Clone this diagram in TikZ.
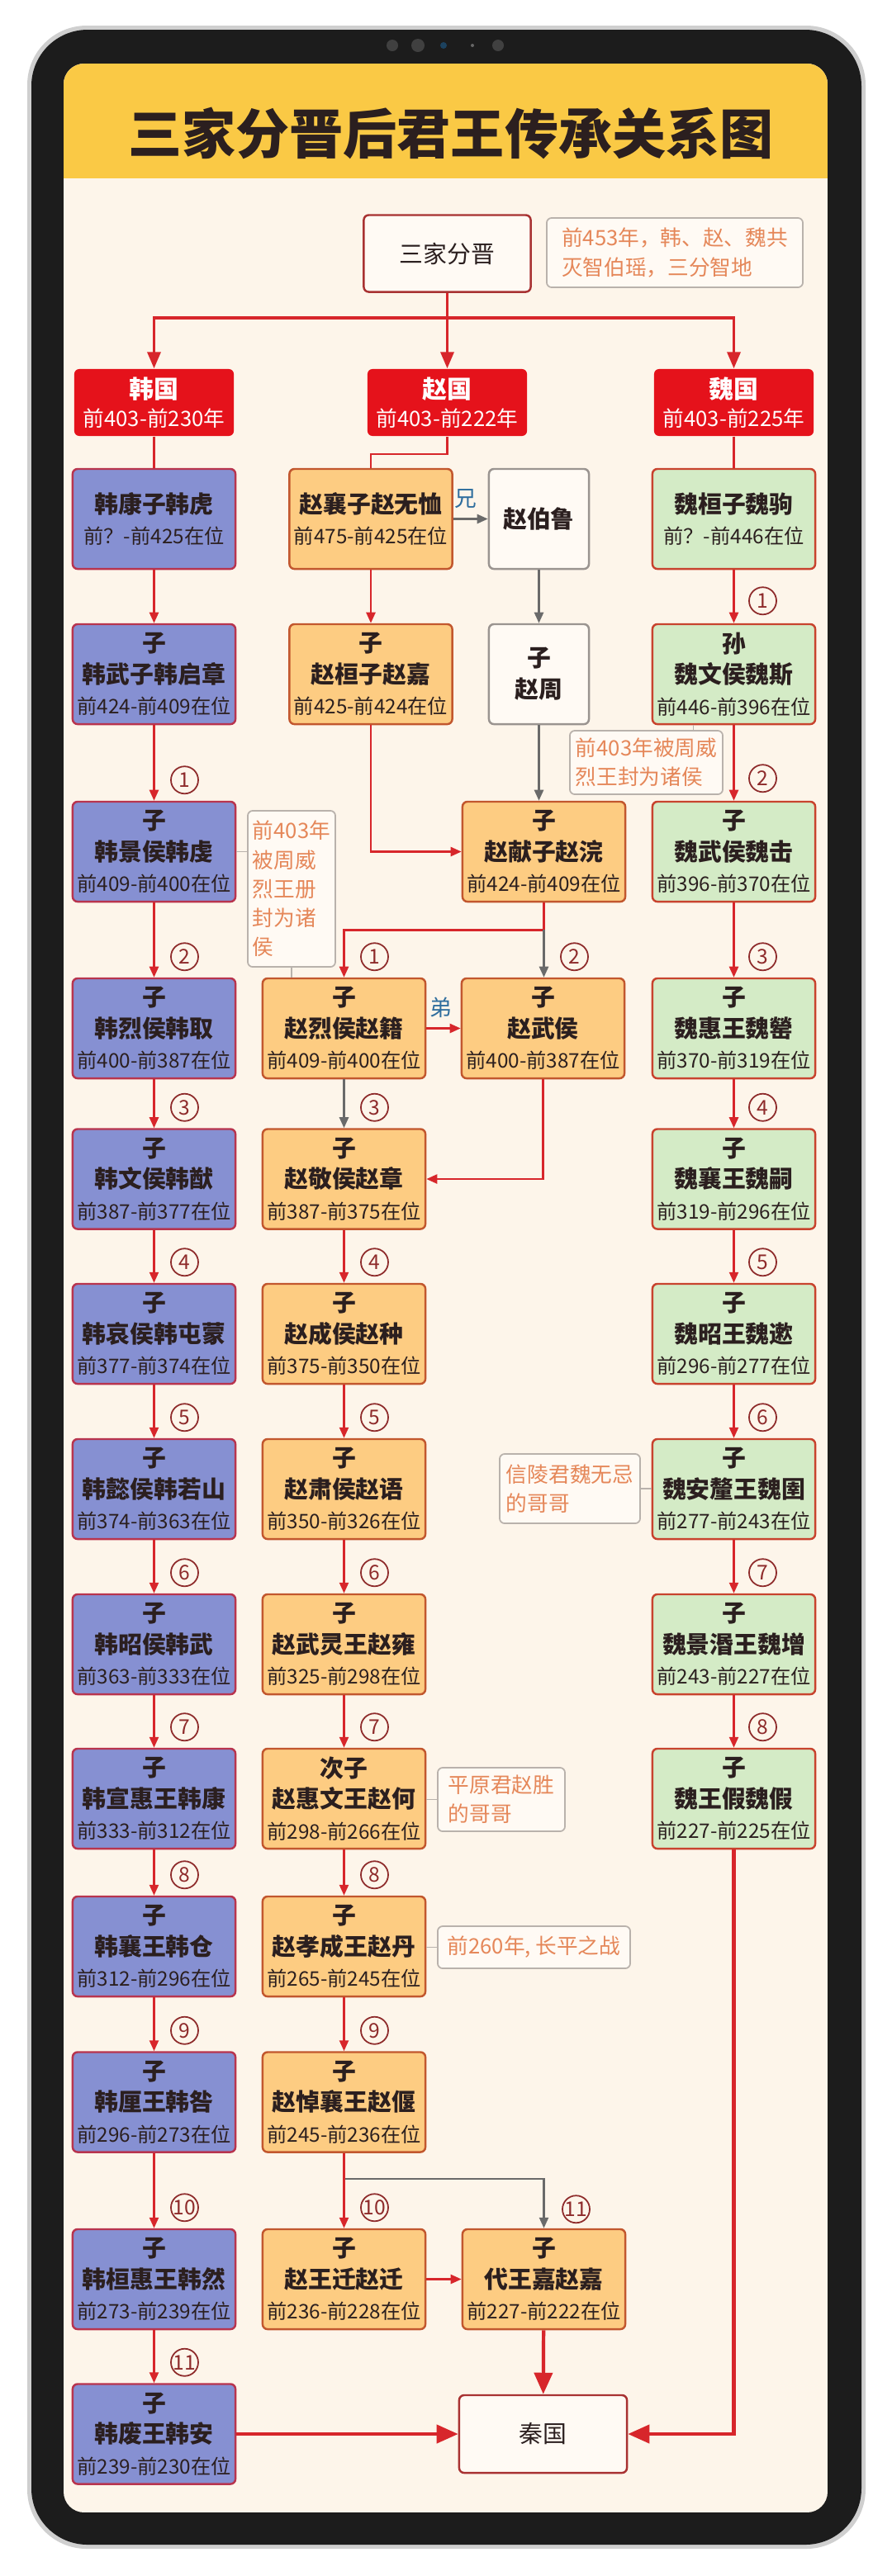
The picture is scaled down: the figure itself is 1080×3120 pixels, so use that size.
\documentclass[tikz,border=0pt]{standalone}
\usepackage{fontspec}
\setmainfont{Noto Sans CJK SC}
\usetikzlibrary{positioning,arrows.meta,calc}

\definecolor{hanfill}{HTML}{8690D2}
\definecolor{hanline}{HTML}{B8344E}
\definecolor{zhaofill}{HTML}{FDCC82}
\definecolor{zhaoline}{HTML}{C2572E}
\definecolor{weifill}{HTML}{D4EBC6}
\definecolor{weiline}{HTML}{C8432E}
\definecolor{statered}{HTML}{E5121B}
\definecolor{linered}{HTML}{D7262B}
\definecolor{linegray}{HTML}{6A6A6A}
\definecolor{sidegray}{HTML}{9A9490}
\definecolor{endline}{HTML}{A83232}
\definecolor{paper}{HTML}{FDF5EA}
\definecolor{paperwhite}{HTML}{FFFAF4}
\definecolor{band}{HTML}{FAC945}
\definecolor{frame}{HTML}{1C1C1C}
\definecolor{rim}{HTML}{CFCFCF}
\definecolor{ink}{HTML}{2B1F1F}
\definecolor{noteink}{HTML}{E58759}
\definecolor{notegray}{HTML}{B9B2AC}
\definecolor{numred}{HTML}{8E2B2B}
\definecolor{kinblue}{HTML}{2F6E9E}

\newcommand{\datefont}{\fontsize{6.9}{10.7}\selectfont\mdseries}
\newcommand{\statedate}{\fontsize{7.3}{9.7}\selectfont\mdseries}
\newcommand{\ruler}[3]{#1\\#2\\{\datefont #3}}

\tikzset{
  kbox/.style={rounded corners=0.06cm, minimum width=1.97cm, minimum height=1.21cm,
    align=center, inner sep=1pt, line width=0.7pt, text=ink,
    font=\fontsize{8.2}{10.7}\selectfont\bfseries},
  hanbox/.style={kbox, draw=hanline, fill=hanfill},
  zhaobox/.style={kbox, draw=zhaoline, fill=zhaofill},
  weibox/.style={kbox, draw=weiline, fill=weifill},
  sidebox/.style={kbox, draw=sidegray, fill=paperwhite, minimum width=1.21cm},
  endbox/.style={kbox, draw=endline, fill=paperwhite, minimum width=2.03cm, minimum height=0.94cm,
    font=\fontsize{8.2}{10.7}\selectfont},
  statebox/.style={rounded corners=0.06cm, fill=statered, text=white, align=center,
    minimum width=1.93cm, minimum height=0.81cm, inner sep=1pt,
    font=\fontsize{8.5}{9.7}\selectfont\bfseries},
  notebox/.style={draw=notegray, fill=paperwhite, rounded corners=0.06cm, text=noteink,
    align=left, inner sep=2pt, line width=0.5pt, font=\fontsize{7.3}{10}\selectfont},
  num/.style={circle, draw=numred, text=numred, line width=0.5pt, inner sep=0pt,
    minimum size=0.33cm, font=\fontsize{7}{7}\selectfont},
  kin/.style={text=kinblue, font=\fontsize{7.6}{8}\selectfont},
  redline/.style={draw=linered, line width=0.7pt},
  redarr/.style={redline, -{Triangle[length=0.13cm,width=0.11cm]}},
  grayarr/.style={draw=linegray, line width=0.7pt, -{Triangle[length=0.13cm,width=0.11cm]}},
  toparr/.style={draw=linered, line width=1pt, -{Triangle[length=0.2cm,width=0.16cm]}},
  bigarr/.style={draw=linered, line width=1.2pt, -{Triangle[length=0.26cm,width=0.22cm]}},
  noteline/.style={draw=notegray, line width=0.5pt}
}

\begin{document}
\begin{tikzpicture}[x=0.01cm,y=-0.01cm]
\useasboundingbox (0,0) rectangle (1080,3120);
\fill[white] (0,0) rectangle (1080,3120);
% tablet frame
\fill[rim, rounded corners=0.72cm] (33,31) rectangle (1048,3087);
\fill[frame, rounded corners=0.68cm] (38,36) rectangle (1043,3082);
\fill[black!75] (475,55) circle (0.07cm) (506,55) circle (0.08cm) (603,55) circle (0.07cm);
\fill[kinblue!60!black] (537,55) circle (0.04cm);
\fill[black!60] (572,55) circle (0.02cm);
\begin{scope}
\clip[rounded corners=0.25cm] (77,77) rectangle (1002,3043);
\fill[paper] (77,77) rectangle (1002,3043);
\fill[band] (77,77) rectangle (1002,216);
\end{scope}
\node[text=ink, font=\fontsize{18.5}{20}\selectfont\bfseries] (title) at (546,161) {三家分晋后君王传承关系图};

% top
\node[endbox, minimum width=2.02cm, minimum height=0.93cm] (sj) at (541.5,307) {三家分晋};
\node[notebox, minimum width=3.1cm, minimum height=0.84cm] (n453) at (817,306) {前453年，韩、赵、魏共\\灭智伯瑶，三分智地};
\node[statebox] (hanguo) at (186.5,487.5) {韩国\\{\statedate 前403-前230年}};
\node[statebox] (zhaoguo) at (541.5,487.5) {赵国\\{\statedate 前403-前222年}};
\node[statebox] (weiguo) at (888.5,487.5) {魏国\\{\statedate 前403-前225年}};
\coordinate (split) at (541.5,385);

% han
\node[hanbox] (h1) at (186.5,628.5) {韩康子韩虎\\{\datefont 前？-前425在位}};
\node[hanbox] (h2) at (186.5,816.5) {\ruler{子}{韩武子韩启章}{前424-前409在位}};
\node[hanbox] (h3) at (186.5,1031.5) {\ruler{子}{韩景侯韩虔}{前409-前400在位}};
\node[hanbox] (h4) at (186.5,1245.5) {\ruler{子}{韩烈侯韩取}{前400-前387在位}};
\node[hanbox] (h5) at (186.5,1428) {\ruler{子}{韩文侯韩猷}{前387-前377在位}};
\node[hanbox] (h6) at (186.5,1615.5) {\ruler{子}{韩哀侯韩屯蒙}{前377-前374在位}};
\node[hanbox] (h7) at (186.5,1803.5) {\ruler{子}{韩懿侯韩若山}{前374-前363在位}};
\node[hanbox] (h8) at (186.5,1991.5) {\ruler{子}{韩昭侯韩武}{前363-前333在位}};
\node[hanbox] (h9) at (186.5,2178.5) {\ruler{子}{韩宣惠王韩康}{前333-前312在位}};
\node[hanbox] (h10) at (186.5,2357.5) {\ruler{子}{韩襄王韩仓}{前312-前296在位}};
\node[hanbox] (h11) at (186.5,2546) {\ruler{子}{韩厘王韩咎}{前296-前273在位}};
\node[hanbox] (h12) at (186.5,2760.5) {\ruler{子}{韩桓惠王韩然}{前273-前239在位}};
\node[hanbox] (h13) at (186.5,2948) {\ruler{子}{韩废王韩安}{前239-前230在位}};

% zhao
\node[zhaobox] (zx) at (449,628.5) {赵襄子赵无恤\\{\datefont 前475-前425在位}};
\node[sidebox] (bl) at (652.5,628.5) {赵伯鲁};
\node[zhaobox] (zh) at (449,816.5) {\ruler{子}{赵桓子赵嘉}{前425-前424在位}};
\node[sidebox] (zz) at (652.5,816.5) {子\\赵周};
\node[zhaobox] (xz) at (658.5,1031.5) {\ruler{子}{赵献子赵浣}{前424-前409在位}};
\node[zhaobox] (lie) at (416.5,1245.5) {\ruler{子}{赵烈侯赵籍}{前409-前400在位}};
\node[zhaobox] (wh) at (657.5,1245.5) {\ruler{子}{赵武侯}{前400-前387在位}};
\node[zhaobox] (z5) at (416.5,1428) {\ruler{子}{赵敬侯赵章}{前387-前375在位}};
\node[zhaobox] (z6) at (416.5,1615.5) {\ruler{子}{赵成侯赵种}{前375-前350在位}};
\node[zhaobox] (z7) at (416.5,1803.5) {\ruler{子}{赵肃侯赵语}{前350-前326在位}};
\node[zhaobox] (z8) at (416.5,1991.5) {\ruler{子}{赵武灵王赵雍}{前325-前298在位}};
\node[zhaobox] (z9) at (416.5,2178.5) {\ruler{次子}{赵惠文王赵何}{前298-前266在位}};
\node[zhaobox] (z10) at (416.5,2357.5) {\ruler{子}{赵孝成王赵丹}{前265-前245在位}};
\node[zhaobox] (z11) at (416.5,2546) {\ruler{子}{赵悼襄王赵偃}{前245-前236在位}};
\node[zhaobox] (z12) at (416.5,2760.5) {\ruler{子}{赵王迁赵迁}{前236-前228在位}};
\node[zhaobox] (dw) at (658.5,2760.5) {\ruler{子}{代王嘉赵嘉}{前227-前222在位}};
\node[endbox] (qin) at (657.5,2948) {秦国};

% wei
\node[weibox] (w1) at (888.5,628.5) {魏桓子魏驹\\{\datefont 前？-前446在位}};
\node[weibox] (w2) at (888.5,816.5) {\ruler{孙}{魏文侯魏斯}{前446-前396在位}};
\node[weibox] (w3) at (888.5,1031.5) {\ruler{子}{魏武侯魏击}{前396-前370在位}};
\node[weibox] (w4) at (888.5,1245.5) {\ruler{子}{魏惠王魏罃}{前370-前319在位}};
\node[weibox] (w5) at (888.5,1428) {\ruler{子}{魏襄王魏嗣}{前319-前296在位}};
\node[weibox] (w6) at (888.5,1615.5) {\ruler{子}{魏昭王魏遬}{前296-前277在位}};
\node[weibox] (w7) at (888.5,1803.5) {\ruler{子}{魏安釐王魏圉}{前277-前243在位}};
\node[weibox] (w8) at (888.5,1991.5) {\ruler{子}{魏景湣王魏增}{前243-前227在位}};
\node[weibox] (w9) at (888.5,2178.5) {\ruler{子}{魏王假魏假}{前227-前225在位}};

% notes
\node[notebox, minimum width=1.85cm, minimum height=0.77cm] (nwei) at (782.5,923.5) {前403年被周威\\烈王封为诸侯};
\node[notebox, minimum width=1.06cm, minimum height=1.89cm, inner sep=1pt] (nhz) at (353,1076.5) {前403年\\被周威\\烈王册\\封为诸\\侯};
\node[notebox, minimum width=1.70cm, minimum height=0.84cm] (nxl) at (690,1803) {信陵君魏无忌\\的哥哥};
\node[notebox, minimum width=1.54cm, minimum height=0.77cm] (npy) at (607,2179.5) {平原君赵胜\\的哥哥};
\node[notebox, minimum width=2.33cm, minimum height=0.51cm] (ncp) at (646.5,2358.5) {前260年, 长平之战};
\coordinate (nw) at ($(nwei.north)+(57,0)$);
\draw[noteline] (nw) -- (nw |- w2.south);
\draw[noteline] (nhz.west |- h3.east) -- (h3.east);
\draw[noteline] (nhz.south) -- (nhz.south |- lie.north);
\draw[noteline] (nxl.east) -- (nxl.east -| w7.west);
\draw[noteline] (npy.west) -- (npy.west -| z9.east);
\draw[noteline] (ncp.west) -- (ncp.west -| z10.east);

% split into three
\draw[toparr] (sj.south) -- (zhaoguo.north);
\draw[toparr] (split) -| (hanguo.north);
\draw[toparr] (split) -| (weiguo.north);
\draw[redline] (hanguo) -- (h1);
\draw[redline] (zhaoguo.south) -- ++(0,21) -| (zx.north);
\draw[redline] (weiguo) -- (w1);

% han line
\draw[redarr] (h1) -- (h2);
\draw[redarr] (h2) -- (h3); \node[num] (nh1) at ($(h3.north)+(37,-25)$) {1};
\draw[redarr] (h3) -- (h4); \node[num] (nh2) at ($(h4.north)+(37,-25)$) {2};
\draw[redarr] (h4) -- (h5); \node[num] (nh3) at ($(h5.north)+(37,-25)$) {3};
\draw[redarr] (h5) -- (h6); \node[num] (nh4) at ($(h6.north)+(37,-25)$) {4};
\draw[redarr] (h6) -- (h7); \node[num] (nh5) at ($(h7.north)+(37,-25)$) {5};
\draw[redarr] (h7) -- (h8); \node[num] (nh6) at ($(h8.north)+(37,-25)$) {6};
\draw[redarr] (h8) -- (h9); \node[num] (nh7) at ($(h9.north)+(37,-25)$) {7};
\draw[redarr] (h9) -- (h10); \node[num] (nh8) at ($(h10.north)+(37,-25)$) {8};
\draw[redarr] (h10) -- (h11); \node[num] (nh9) at ($(h11.north)+(37,-25)$) {9};
\draw[redarr] (h11) -- (h12); \node[num] (nh10) at ($(h12.north)+(37,-25)$) {10};
\draw[redarr] (h12) -- (h13); \node[num] (nh11) at ($(h13.north)+(37,-25)$) {11};

% zhao line
\draw[grayarr] (zx) -- node[kin, above, pos=0.36] (xiong) {兄} (bl);
\draw[redarr] (zx) -- (zh);
\draw[grayarr] (bl) -- (zz);
\draw[redarr] (zh.south) |- (xz.west);
\draw[grayarr] (zz.south) -- (zz.south |- xz.north);
\coordinate (xj) at ($(xz.south)+(0,33)$);
\draw[redarr] (xz.south) -- (xj) -| (lie.north); \node[num] (nz1) at ($(lie.north)+(37,-25)$) {1};
\draw[grayarr] (xj) -- (xj |- wh.north); \node[num] (nz2) at ($(xj |- wh.north)+(37,-25)$) {2};
\draw[redarr] (lie) -- node[kin, above, pos=0.43] (di) {弟} (wh);
\draw[grayarr] (lie) -- (z5); \node[num] (nz3) at ($(z5.north)+(37,-25)$) {3};
\draw[redarr] (wh.south) |- (z5.east);
\draw[redarr] (z5) -- (z6); \node[num] (nz4) at ($(z6.north)+(37,-25)$) {4};
\draw[redarr] (z6) -- (z7); \node[num] (nz5) at ($(z7.north)+(37,-25)$) {5};
\draw[redarr] (z7) -- (z8); \node[num] (nz6) at ($(z8.north)+(37,-25)$) {6};
\draw[redarr] (z8) -- (z9); \node[num] (nz7) at ($(z9.north)+(37,-25)$) {7};
\draw[redarr] (z9) -- (z10); \node[num] (nz8) at ($(z10.north)+(37,-25)$) {8};
\draw[redarr] (z10) -- (z11); \node[num] (nz9) at ($(z11.north)+(37,-25)$) {9};
\coordinate (zj) at ($(z11.south)+(0,31)$);
\draw[grayarr] (zj) -| (dw.north); \node[num] (nz11) at ($(dw.north)+(39,-23)$) {11};
\draw[redarr] (z11) -- (z12); \node[num] (nz10) at ($(z12.north)+(37,-25)$) {10};
\draw[redarr] (z12) -- (dw);

% wei line
\draw[redarr] (w1) -- (w2); \node[num] (nw1) at ($(w2.north)+(35,-27)$) {1};
\draw[redarr] (w2) -- (w3); \node[num] (nw2) at ($(w3.north)+(35,-27)$) {2};
\draw[redarr] (w3) -- (w4); \node[num] (nw3) at ($(w4.north)+(35,-25)$) {3};
\draw[redarr] (w4) -- (w5); \node[num] (nw4) at ($(w5.north)+(35,-25)$) {4};
\draw[redarr] (w5) -- (w6); \node[num] (nw5) at ($(w6.north)+(35,-25)$) {5};
\draw[redarr] (w6) -- (w7); \node[num] (nw6) at ($(w7.north)+(35,-25)$) {6};
\draw[redarr] (w7) -- (w8); \node[num] (nw7) at ($(w8.north)+(35,-25)$) {7};
\draw[redarr] (w8) -- (w9); \node[num] (nw8) at ($(w9.north)+(35,-25)$) {8};

% to qin
\draw[bigarr] (dw) -- (qin);
\draw[bigarr] (h13) -- (qin);
\draw[bigarr] (w9.south) |- (qin.east);
\end{tikzpicture}
\end{document}
